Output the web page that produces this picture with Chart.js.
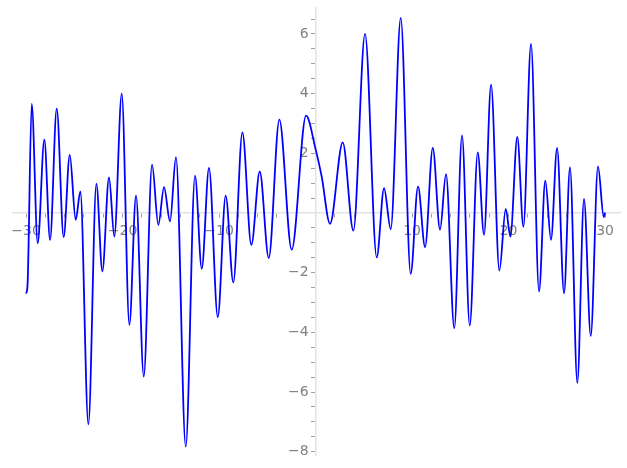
<!DOCTYPE html>
<html>
<head>
<meta charset="utf-8">
<script src="https://cdn.jsdelivr.net/npm/chart.js"></script>
<style>
  html, body { margin: 0; padding: 0; background: #fff; }
  canvas { display: block; }
</style>
</head>
<body>
<canvas id="plot" width="627" height="468"></canvas>
<script>
// Curve samples (turning points plus a few in-between points)
const xValues = [
  -30.0, -29.85, -29.41, -28.79, -28.10, -27.51, -26.82, -26.10, -25.47, -24.85,
  -24.37, -23.54, -22.71, -22.09, -21.40, -20.85, -20.08, -19.29, -18.60, -17.80,
  -16.94, -16.29, -15.70, -15.08, -14.46, -13.45, -12.49, -11.79, -11.04, -10.13,
  -9.31, -8.52, -7.58, -6.65, -5.78, -4.85, -3.75, -2.47, -0.98, 0.0,
  0.64, 1.50, 2.82, 3.92, 5.13, 6.34, 7.10, 7.79, 8.83, 9.86,
  10.62, 11.35, 12.15, 12.90, 13.52, 14.38, 15.18, 15.98, 16.81, 17.46,
  18.19, 19.05, 19.71, 20.19, 20.91, 21.54, 22.33, 23.16, 23.81, 24.40,
  25.03, 25.75, 26.37, 27.13, 27.82, 28.52, 29.27, 29.87, 30.0,
];
const yValues = [
  -2.70, -2.45, 3.66, -1.01, 2.46, -0.90, 3.50, -0.81, 1.95, -0.23,
  0.72, -7.08, 0.98, -1.96, 1.19, -0.79, 4.00, -3.75, 0.58, -5.48,
  1.62, -0.40, 0.87, -0.28, 1.87, -7.83, 1.25, -1.87, 1.51, -3.49,
  0.58, -2.33, 2.70, -1.07, 1.39, -1.51, 3.13, -1.23, 3.26, 2.15,
  1.22, -0.36, 2.37, -0.59, 6.00, -1.49, 0.83, -0.54, 6.54, -2.04,
  0.89, -1.14, 2.18, -0.56, 1.30, -3.86, 2.60, -3.77, 2.03, -0.73,
  4.30, -1.93, 0.14, -0.79, 2.55, -0.46, 5.67, -2.63, 1.08, -0.90,
  2.18, -2.69, 1.53, -5.69, 0.47, -4.12, 1.56, -0.14, 0.02,
];

// Labelled ticks; the other ticks are unlabelled minor marks
const xTickLabels = [-30, -20, -10, 10, 20, 30];
const yTickLabels = [-8, -6, -4, -2, 2, 4, 6];

const tickFont = { family: 'DejaVu Sans', size: 14 };
const labelColor = '#808080';
const axisColor = '#e3e3e3';

function labelFor(list, suffix = '') {
  return (value) => {
    const hit = list.find((t) => Math.abs(t - value) < 1e-6);
    return hit === undefined ? '' : String(hit).replace('-', '\u2212') + suffix;
  };
}

// Axes sit in the middle of the plot, so they should not eat layout space
function noSpace(scale) {
  if (scale.isHorizontal()) scale.height = 0;
  else scale.width = 0;
  scale.paddingLeft = 0;
  scale.paddingRight = 0;
  scale.paddingTop = 0;
  scale.paddingBottom = 0;
}

const points = xValues.map((x, i) => ({ x, y: yValues[i] }));

new Chart(document.getElementById('plot'), {
  type: 'line',
  data: {
    datasets: [{
      data: points,
      borderColor: '#0000ff',
      borderWidth: 1.8,
      pointRadius: 0,
      cubicInterpolationMode: 'monotone',
      fill: false,
    }],
  },
  options: {
    responsive: false,
    animation: false,
    layout: { padding: { left: 13, right: 7, top: 8, bottom: 13 } },
    plugins: {
      legend: { display: false },
      tooltip: { enabled: false },
    },
    scales: {
      x: {
        type: 'linear',
        position: { y: 0 },
        min: -31.35,
        max: 31.55,
        afterFit: noSpace,
        border: { color: axisColor, width: 1.5 },
        grid: { drawOnChartArea: false, tickLength: 4, tickColor: '#a0a0a0' },
        ticks: {
          stepSize: 2,
          includeBounds: false,
          autoSkip: false,
          maxRotation: 0,
          padding: 6,
          color: labelColor,
          font: tickFont,
          callback: labelFor(xTickLabels),
        },
      },
      y: {
        type: 'linear',
        position: { x: 0 },
        min: -8.11,
        max: 6.87,
        afterFit: noSpace,
        border: { color: axisColor, width: 1.5 },
        grid: { drawOnChartArea: false, tickLength: 4, tickColor: '#a0a0a0' },
        ticks: {
          stepSize: 0.5,
          includeBounds: false,
          autoSkip: false,
          padding: 6,
          color: labelColor,
          font: tickFont,
          // centred y axis ignores ticks.padding, so an en space keeps the gap
          callback: labelFor(yTickLabels, '\u2002'),
        },
      },
    },
  },
});
</script>
</body>
</html>
